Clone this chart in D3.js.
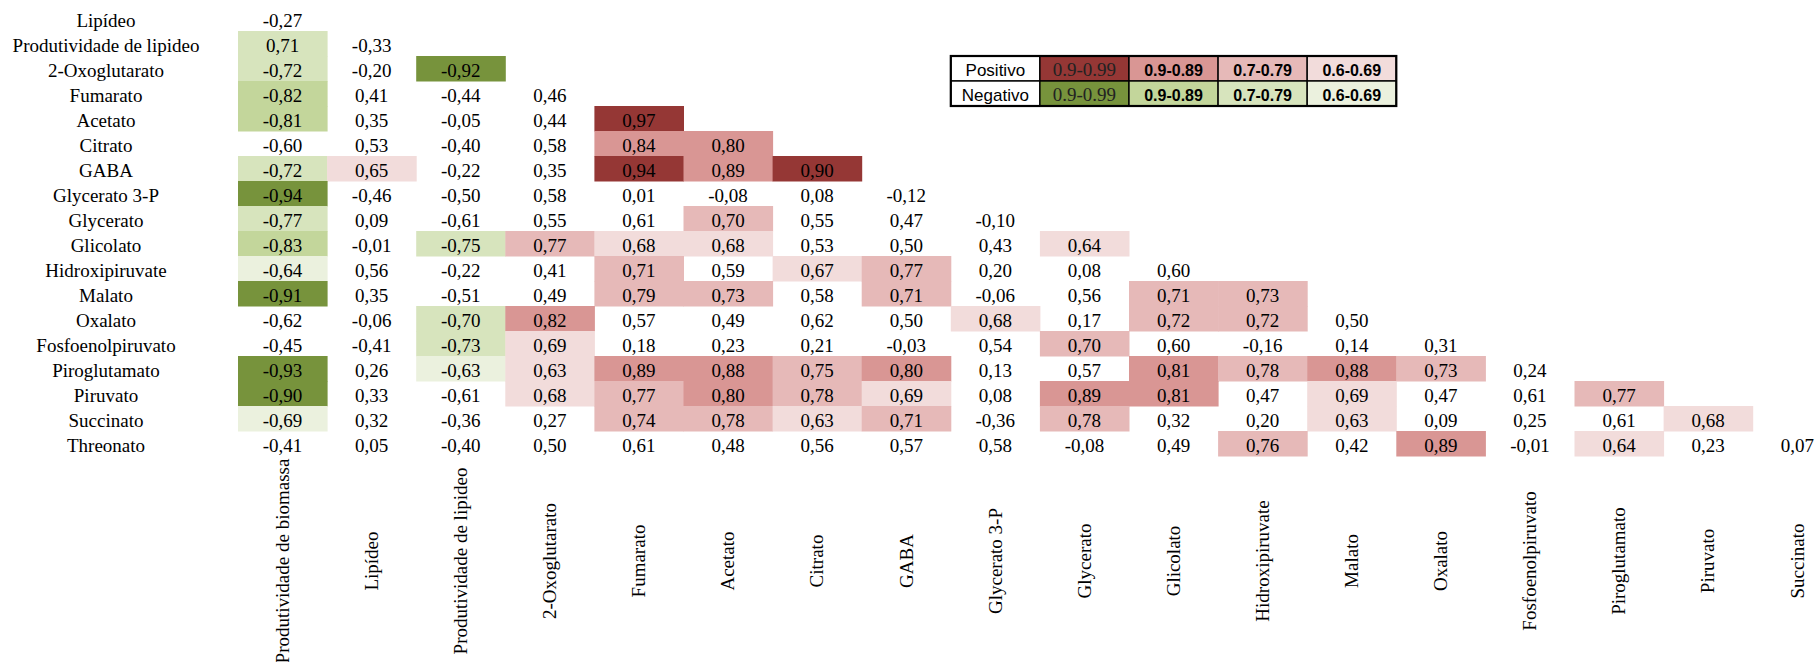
<!DOCTYPE html>
<html>
<head>
<meta charset="utf-8">
<script src="https://cdn.jsdelivr.net/npm/d3@7"></script>
<style>
  html, body { margin: 0; padding: 0; background: #ffffff; }
  svg { display: block; }
</style>
</head>
<body>
<svg id="chart" width="1820" height="662"></svg>
<script>
// Variables along the left side (rows of the lower triangle)
const rowNames = [
  "Lipídeo", "Produtividade de lipideo", "2-Oxoglutarato", "Fumarato", "Acetato",
  "Citrato", "GABA", "Glycerato 3-P", "Glycerato", "Glicolato", "Hidroxipiruvate",
  "Malato", "Oxalato", "Fosfoenolpiruvato", "Piroglutamato", "Piruvato",
  "Succinato", "Threonato"
];

// Variables along the bottom (columns)
const colNames = [
  "Produtividade de biomassa", "Lipídeo", "Produtividade de lipideo", "2-Oxoglutarato",
  "Fumarato", "Acetato", "Citrato", "GABA", "Glycerato 3-P", "Glycerato", "Glicolato",
  "Hidroxipiruvate", "Malato", "Oxalato", "Fosfoenolpiruvato", "Piroglutamato",
  "Piruvato", "Succinato"
];

// Pearson correlation coefficients, one list per row (row i holds i+1 values)
const r01 = [-0.27];
const r02 = [0.71, -0.33];
const r03 = [-0.72, -0.20, -0.92];
const r04 = [-0.82, 0.41, -0.44, 0.46];
const r05 = [-0.81, 0.35, -0.05, 0.44, 0.97];
const r06 = [-0.60, 0.53, -0.40, 0.58, 0.84, 0.80];
const r07 = [-0.72, 0.65, -0.22, 0.35, 0.94, 0.89, 0.90];
const r08 = [-0.94, -0.46, -0.50, 0.58, 0.01, -0.08, 0.08, -0.12];
const r09 = [-0.77, 0.09, -0.61, 0.55, 0.61, 0.70, 0.55, 0.47, -0.10];
const r10 = [-0.83, -0.01, -0.75, 0.77, 0.68, 0.68, 0.53, 0.50, 0.43, 0.64];
const r11 = [-0.64, 0.56, -0.22, 0.41, 0.71, 0.59, 0.67, 0.77, 0.20, 0.08, 0.60];
const r12 = [-0.91, 0.35, -0.51, 0.49, 0.79, 0.73, 0.58, 0.71, -0.06, 0.56, 0.71, 0.73];
const r13 = [-0.62, -0.06, -0.70, 0.82, 0.57, 0.49, 0.62, 0.50, 0.68, 0.17, 0.72, 0.72, 0.50];
const r14 = [-0.45, -0.41, -0.73, 0.69, 0.18, 0.23, 0.21, -0.03, 0.54, 0.70, 0.60, -0.16, 0.14, 0.31];
const r15 = [-0.93, 0.26, -0.63, 0.63, 0.89, 0.88, 0.75, 0.80, 0.13, 0.57, 0.81, 0.78, 0.88, 0.73, 0.24];
const r16 = [-0.90, 0.33, -0.61, 0.68, 0.77, 0.80, 0.78, 0.69, 0.08, 0.89, 0.81, 0.47, 0.69, 0.47, 0.61, 0.77];
const r17 = [-0.69, 0.32, -0.36, 0.27, 0.74, 0.78, 0.63, 0.71, -0.36, 0.78, 0.32, 0.20, 0.63, 0.09, 0.25, 0.61, 0.68];
const r18 = [-0.41, 0.05, -0.40, 0.50, 0.61, 0.48, 0.56, 0.57, 0.58, -0.08, 0.49, 0.76, 0.42, 0.89, -0.01, 0.64, 0.23, 0.07];
const rowValues = [r01, r02, r03, r04, r05, r06, r07, r08, r09, r10, r11, r12, r13, r14, r15, r16, r17, r18];

// Cells shaded with the negative palette regardless of printed sign
const shadeAsNegative = [["Produtividade de lipideo", "Produtividade de biomassa"]];

// Strength classes: |r| cut points (below the first: not shaded)
const strengthCuts = [0.63, 0.70, 0.80, 0.90];

// Legend texts
const legendSigns = ["Positivo", "Negativo"];
const legendRanges = ["0.9-0.99", "0.9-0.89", "0.7-0.79", "0.6-0.69"];

// ---------------------------------------------------------------------------
const positiveShades = [null, "#F2DCDB", "#E6B9B8", "#D99694", "#953735"];
const negativeShades = [null, "#EBF1DE", "#D7E4BD", "#C3D69B", "#77933C"];

const serif = "'Liberation Serif', 'Times New Roman', serif";
const sans = "'Liberation Sans', Arial, sans-serif";

const svg = d3.select("#chart");

const cellW = 89.1, cellH = 25;
const x = d3.scaleBand().domain(colNames).range([238, 238 + colNames.length * cellW]).padding(0);
const y = d3.scaleBand().domain(rowNames).range([6, 6 + rowNames.length * cellH]).padding(0);

const strength = d3.scaleThreshold().domain(strengthCuts).range([0, 1, 2, 3, 4]);

const ptLocale = d3.formatLocale({ decimal: ",", thousands: ".", grouping: [3], currency: ["R$", ""], minus: "-" });
const fmt = ptLocale.format(".2f");

const cells = [];
rowValues.forEach((vals, i) => {
  vals.forEach((v, j) => {
    const row = rowNames[i], col = colNames[j];
    const forcedNeg = shadeAsNegative.some(p => p[0] === row && p[1] === col);
    cells.push({ row, col, v, negShade: forcedNeg || v < 0 });
  });
});

const cellColor = d => {
  const lvl = strength(Math.abs(d.v));
  if (!lvl) return null;
  return d.negShade ? negativeShades[lvl] : positiveShades[lvl];
};

// Shaded backgrounds
svg.append("g")
  .selectAll("rect")
  .data(cells.filter(d => cellColor(d)))
  .join("rect")
  .attr("x", d => x(d.col))
  .attr("y", d => y(d.row))
  .attr("width", x.bandwidth() + 0.5)
  .attr("height", y.bandwidth() + 0.5)
  .attr("fill", cellColor);

// Coefficient labels
svg.append("g")
  .attr("font-family", serif)
  .attr("font-size", 19)
  .attr("fill", "#000")
  .attr("text-anchor", "middle")
  .selectAll("text")
  .data(cells)
  .join("text")
  .attr("x", d => x(d.col) + x.bandwidth() / 2)
  .attr("y", d => y(d.row) + 20.8)
  .text(d => fmt(d.v));

// Row names
svg.append("g")
  .attr("font-family", serif)
  .attr("font-size", 19)
  .attr("fill", "#000")
  .attr("text-anchor", "middle")
  .selectAll("text")
  .data(rowNames)
  .join("text")
  .attr("x", 106)
  .attr("y", d => y(d) + 20.8)
  .text(d => d);

// Column names, rotated
const colLabelMid = 561;
svg.append("g")
  .attr("font-family", serif)
  .attr("font-size", 19)
  .attr("fill", "#000")
  .attr("text-anchor", "middle")
  .selectAll("text")
  .data(colNames)
  .join("text")
  .attr("transform", d => `translate(${x(d) + x.bandwidth() / 2},${colLabelMid}) rotate(-90)`)
  .attr("dy", "0.33em")
  .text(d => d);

// Legend table
const lgX = x(colNames[8]);
const lgY = y(rowNames[2]);
const lgW = x.bandwidth();
const lgH = y.bandwidth();
const legend = svg.append("g");

const legendCells = [];
legendSigns.forEach((s, r) => {
  legendCells.push({ r, c: 0, fill: "#ffffff", text: s, kind: "sign" });
  legendRanges.forEach((t, k) => {
    const lvl = 4 - k;
    legendCells.push({
      r, c: k + 1,
      fill: r === 0 ? positiveShades[lvl] : negativeShades[lvl],
      text: t, kind: k === 0 ? "dark" : "range"
    });
  });
});

legend.selectAll("rect.cell")
  .data(legendCells)
  .join("rect")
  .attr("class", "cell")
  .attr("x", d => lgX + d.c * lgW)
  .attr("y", d => lgY + d.r * lgH)
  .attr("width", lgW)
  .attr("height", lgH)
  .attr("fill", d => d.fill)
  .attr("stroke", "#000")
  .attr("stroke-width", 1.4);

legend.selectAll("text")
  .data(legendCells)
  .join("text")
  .attr("x", d => lgX + d.c * lgW + lgW / 2)
  .attr("y", d => lgY + d.r * lgH + 19.5)
  .attr("text-anchor", "middle")
  .attr("font-family", d => d.kind === "dark" ? serif : sans)
  .attr("font-size", d => d.kind === "dark" ? 19 : (d.kind === "sign" ? 17 : 16))
  .attr("font-weight", d => d.kind === "range" ? "bold" : "normal")
  .attr("fill", d => d.kind === "dark" ? "#222" : "#000")
  .text(d => d.text);

legend.append("rect")
  .attr("x", lgX)
  .attr("y", lgY)
  .attr("width", lgW * (legendRanges.length + 1))
  .attr("height", lgH * legendSigns.length)
  .attr("fill", "none")
  .attr("stroke", "#000")
  .attr("stroke-width", 2.2);
</script>
</body>
</html>
